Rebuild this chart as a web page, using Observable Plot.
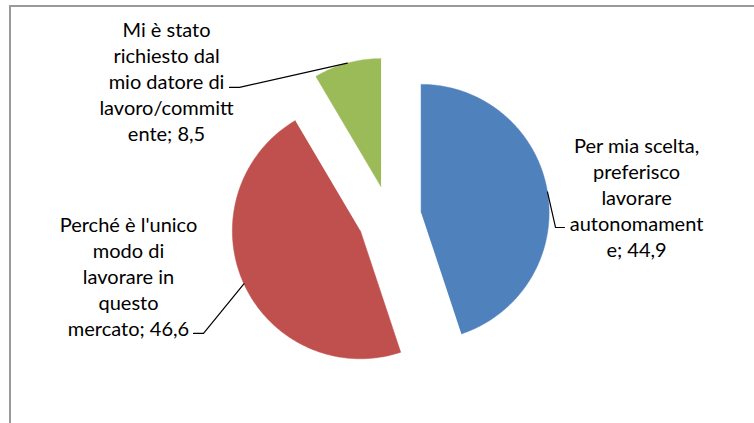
<!DOCTYPE html>
<html>
<head>
<meta charset="utf-8">
<script src="https://cdn.jsdelivr.net/npm/d3@7"></script>
<script src="https://cdn.jsdelivr.net/npm/@observablehq/plot@0.6"></script>
<style>
  html, body { margin: 0; padding: 0; background: #fff; overflow: hidden; }
  #wrap { position: relative; width: 754px; height: 423px; overflow: hidden; }
  #border { position: absolute; left: 9px; top: 5px; width: 900px; height: 600px;
            border-top: 2px solid #9a9a9a; border-left: 2px solid #9a9a9a; pointer-events: none; }
</style>
</head>
<body>
<div id="wrap"><div id="border"></div></div>
<script>
// ---- data ----
const categories = [
  "Per mia scelta, preferisco lavorare autonomamente",
  "Perché è l'unico modo di lavorare in questo mercato",
  "Mi è stato richiesto dal mio datore di lavoro/committente"
];
const values = [44.9, 46.6, 8.5];
const labelTexts = [
  "Per mia scelta,\npreferisco\nlavorare\nautonomament\ne; 44,9",
  "Perché è l'unico\nmodo di\nlavorare in\nquesto\nmercato; 46,6",
  "Mi è stato\nrichiesto dal\nmio datore di\nlavoro/committ\nente; 8,5"
];
const colors = ["#4F81BD", "#C0504D", "#9BBB59"];

// ---- layout (pie radius = 1 unit) ----
const W = 754, H = 423;
const unit = 128;           // px per radius
const cx = 389, cy = 217;   // pie centre in px
const explode = 0.25;       // explosion as fraction of radius

// label block centres and leader elbows, in radius units relative to pie centre
const labelPos = [[1.93, 0.164], [-2.039, -0.457], [-1.742, 1.066]];
const leaderElbow = [[1.297, -0.078], [-1.453, -0.906], [-1.172, 1.016]];
const leaderEnd = [[1.367, -0.078], [-1.531, -0.906], [-1.25, 1.016]];

const arcs = d3.pie().sort(null).startAngle(0).endAngle(2 * Math.PI)(values);
const dir = a => [Math.sin(a), Math.cos(a)];

const slicePts = [];
arcs.forEach((a, i) => {
  const mid = (a.startAngle + a.endAngle) / 2;
  const [ox, oy] = dir(mid).map(v => v * explode);
  slicePts.push({cat: categories[i], x: ox, y: oy});
  const n = Math.max(8, Math.ceil((a.endAngle - a.startAngle) / 0.01));
  for (let k = 0; k <= n; k++) {
    const t = a.startAngle + (a.endAngle - a.startAngle) * k / n;
    const [dx, dy] = dir(t);
    slicePts.push({cat: categories[i], x: ox + dx, y: oy + dy});
  }
});

const leaderPts = [];
arcs.forEach((a, i) => {
  const mid = (a.startAngle + a.endAngle) / 2;
  const [sx, sy] = dir(mid).map(v => v * (1 + explode));
  leaderPts.push({cat: categories[i], x: sx, y: sy});
  leaderPts.push({cat: categories[i], x: leaderElbow[i][0], y: leaderElbow[i][1]});
  leaderPts.push({cat: categories[i], x: leaderEnd[i][0], y: leaderEnd[i][1]});
});

const labels = categories.map((c, i) => ({cat: c, text: labelTexts[i], x: labelPos[i][0], y: labelPos[i][1]}));

const chart = Plot.plot({
  width: W, height: H,
  margin: 0,
  style: {fontFamily: "Lato, 'Open Sans', sans-serif", background: "transparent"},
  x: {domain: [-cx / unit, (W - cx) / unit], range: [0, W], axis: null},
  y: {domain: [-(H - cy) / unit, cy / unit], range: [H, 0], axis: null},
  color: {domain: categories, range: colors, legend: false},
  marks: [
    Plot.line(slicePts, {x: "x", y: "y", z: "cat", fill: "cat", stroke: "cat", strokeWidth: 0.5, curve: "linear"}),
    Plot.line(leaderPts, {x: "x", y: "y", z: "cat", stroke: "#000", strokeWidth: 1.2}),
    Plot.text(labels, {x: "x", y: "y", text: "text", fill: "#000", fontSize: 20, lineHeight: 1.3, textAnchor: "middle", lineAnchor: "middle"})
  ]
});
document.getElementById("wrap").prepend(chart);
</script>
</body>
</html>
